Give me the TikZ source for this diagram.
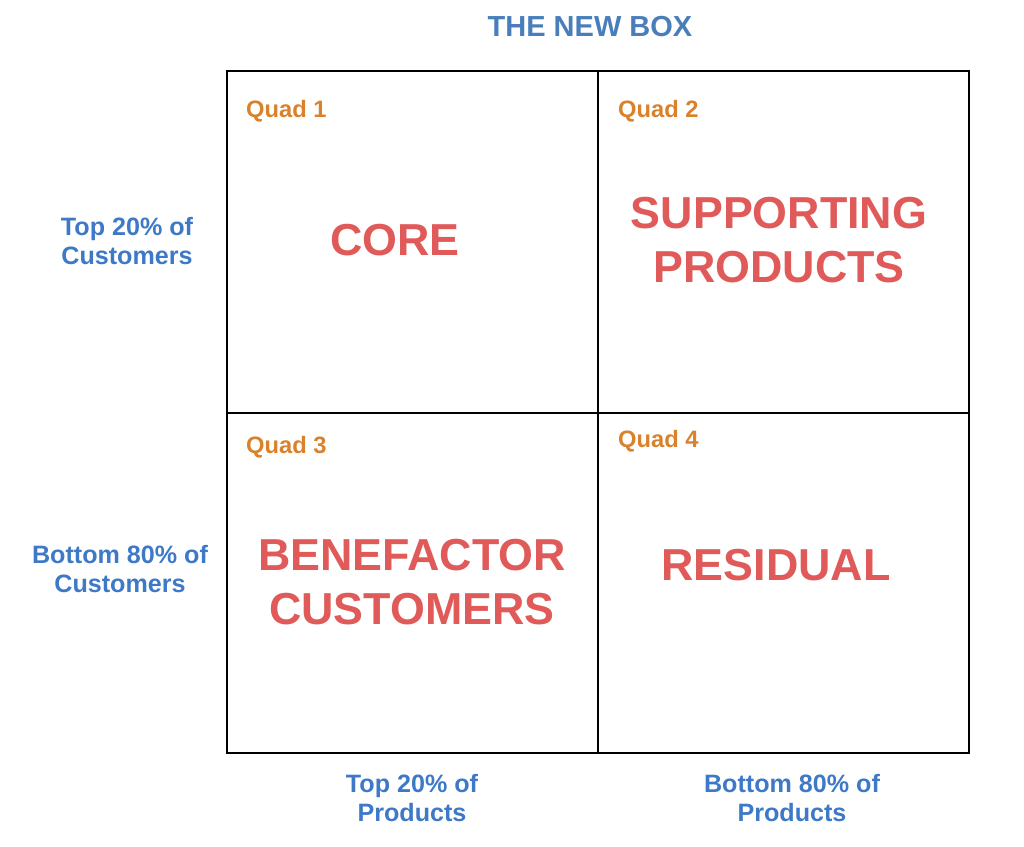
\documentclass[tikz,border=0pt]{standalone}
\usepackage{fontspec}
\setmainfont{Liberation Sans}
\definecolor{titleblue}{HTML}{4A7EBB}
\definecolor{axisblue}{HTML}{3D79C6}
\definecolor{quadorange}{HTML}{D9822B}
\definecolor{bigred}{HTML}{E05A5A}
\tikzset{
  quadtag/.style={anchor=west,text=quadorange,font=\bfseries\fontsize{13.5}{16}\selectfont},
  bigword/.style={align=center,text=bigred,font=\bfseries\fontsize{25.5}{31}\selectfont},
  axislabel/.style={align=center,text=axisblue,font=\bfseries\fontsize{14.3}{16}\selectfont},
}
\begin{document}
\begin{tikzpicture}[x=0.02cm,y=-0.02cm]
      \useasboundingbox (0,0) rectangle (1024,847);
      \coordinate (tl) at (227,71);
      \coordinate (br) at (969,753);
      \coordinate (mt) at (598,71);
      \coordinate (mb) at (598,753);
      \coordinate (ml) at (227,413);
      \coordinate (mr) at (969,413);

      \draw[line width=0.8pt] (tl) rectangle (br);
      \draw[line width=0.8pt] (mt) -- (mb);
      \draw[line width=0.8pt] (ml) -- (mr);

      \node (title) [text=titleblue,font=\bfseries\fontsize{16.5}{20}\selectfont] at (590,27) {THE NEW BOX};

      \node [quadtag] (q1) at (240,111) {Quad 1};
      \node [quadtag] (q2) at (612,111) {Quad 2};
      \node [quadtag] (q3) at (240,447) {Quad 3};
      \node [quadtag] (q4) at (612,441) {Quad 4};

      \node [bigword] (core) at (395,240) {CORE};
      \node [bigword] (support) at (779,240) {SUPPORTING\\PRODUCTS};
      \node [bigword] (benefactor) at (412,582) {BENEFACTOR\\CUSTOMERS};
      \node [bigword] (residual) at (776,565) {RESIDUAL};

      \node [axislabel] (topcust) at (127,241) {Top 20\% of\\Customers};
      \node [axislabel] (botcust) at (120,569) {Bottom 80\% of\\Customers};
      \node [axislabel] (topprod) at (412,798) {Top 20\% of\\Products};
      \node [axislabel] (botprod) at (792,798) {Bottom 80\% of\\Products};
    \end{tikzpicture}
\end{document}
